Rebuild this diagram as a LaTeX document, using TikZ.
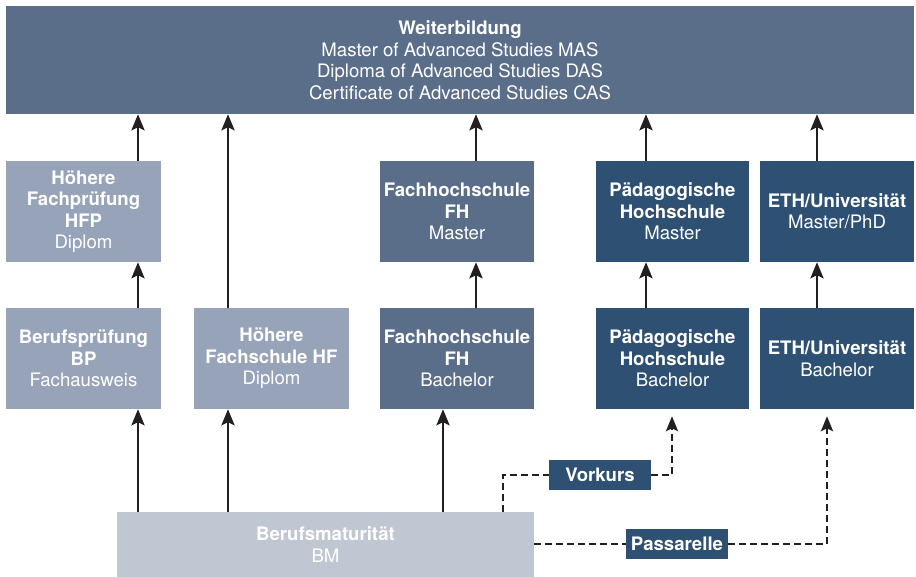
\documentclass[tikz,border=0pt]{standalone}
\usepackage{fontspec}
\setmainfont{TeX Gyre Heros}
\usetikzlibrary{arrows.meta}
\definecolor{midblue}{HTML}{5A6E8A}
\definecolor{lightblue}{HTML}{96A3B8}
\definecolor{darkblue}{HTML}{2E5073}
\definecolor{paleblue}{HTML}{C0C6D2}
\definecolor{linecol}{HTML}{231F20}
\begin{document}
\begin{tikzpicture}[x=1pt,y=-1pt,
  box/.style={rectangle, inner sep=0pt, text=white, align=center,
    font=\fontsize{18.6}{21.5}\selectfont},
  midbox/.style={box, fill=midblue},
  lightbox/.style={box, fill=lightblue},
  darkbox/.style={box, fill=darkblue},
  palebox/.style={box, fill=paleblue},
  tagbox/.style={box, fill=darkblue, minimum width=102pt, minimum height=30pt, font=\fontsize{18.6}{21.5}\selectfont\bfseries},
  colbox/.style={minimum width=155pt, minimum height=101pt},
  arr/.style={draw=linecol, line width=2.7pt, -{Stealth[length=16pt,width=13pt,inset=3pt]}},
  dline/.style={draw=linecol, line width=2.7pt, dash pattern=on 7pt off 4pt},
  darr/.style={dline, shorten >=7pt, -{Stealth[length=15pt,width=12pt,inset=3pt]}}
]
\useasboundingbox (0,0) rectangle (916,577);

% top box
\node[midbox, minimum width=908pt, minimum height=108pt] (top) at (460,60)
  {\textbf{Weiterbildung}\\Master of Advanced Studies MAS\\Diploma of Advanced Studies DAS\\Certificate of Advanced Studies CAS};

% row 2
\node[lightbox, colbox] (hfp) at (83.5,211.5)
  {\textbf{Höhere}\\\textbf{Fachprüfung}\\\textbf{HFP}\\Diplom};
\node[midbox, colbox, minimum width=154pt] (fhm) at (457,211.5)
  {\textbf{Fachhochschule}\\\textbf{FH}\\Master};
\node[darkbox, colbox, minimum width=153pt] (phm) at (672.5,211.5)
  {\textbf{Pädagogische}\\\textbf{Hochschule}\\Master};
\node[darkbox, colbox, minimum width=154pt] (ethm) at (837,211.5)
  {\textbf{ETH/Universität}\\Master/PhD};

% row 3
\node[lightbox, colbox] (bp) at (83.5,358.5)
  {\textbf{Berufsprüfung}\\\textbf{BP}\\Fachausweis};
\node[lightbox, colbox] (hf) at (271.5,358.5)
  {\textbf{Höhere}\\\textbf{Fachschule HF}\\Diplom};
\node[midbox, colbox, minimum width=154pt] (fhb) at (457,358.5)
  {\textbf{Fachhochschule}\\\textbf{FH}\\Bachelor};
\node[darkbox, colbox, minimum width=153pt] (phb) at (672.5,358.5)
  {\textbf{Pädagogische}\\\textbf{Hochschule}\\Bachelor};
\node[darkbox, colbox, minimum width=154pt] (ethb) at (837,358.5)
  {\textbf{ETH/Universität}\\Bachelor};

% bottom
\node[palebox, minimum width=417pt, minimum height=65pt] (bm) at (325.5,544.5)
  {\textbf{Berufsmaturität}\\BM};

\node[tagbox] (vork) at (600,475) {Vorkurs};
\node[tagbox] (pass) at (677,544) {Passarelle};

% arrow columns
\coordinate (c1) at (138,0);
\coordinate (c2) at (228,0);
\coordinate (c3) at (476,0);
\coordinate (c3b) at (443,0);
\coordinate (c4) at (646,0);
\coordinate (c5) at (817,0);

\draw[arr] (c1 |- hfp.north) -- (c1 |- top.south);
\draw[arr] (c2 |- hf.north) -- (c2 |- top.south);
\draw[arr] (c3 |- fhm.north) -- (c3 |- top.south);
\draw[arr] (c4 |- phm.north) -- (c4 |- top.south);
\draw[arr] (c5 |- ethm.north) -- (c5 |- top.south);

\draw[arr] (c1 |- bp.north) -- (c1 |- hfp.south);
\draw[arr] (c3 |- fhb.north) -- (c3 |- fhm.south);
\draw[arr] (c4 |- phb.north) -- (c4 |- phm.south);
\draw[arr] (c5 |- ethb.north) -- (c5 |- ethm.south);

\draw[arr] (c1 |- bm.north) -- (c1 |- bp.south);
\draw[arr] (c2 |- bm.north) -- (c2 |- hf.south);
\draw[arr] (c3b |- bm.north) -- (c3b |- fhb.south);

% dashed routes
\coordinate (v1) at (503,475);
\coordinate (v2) at (672,475);
\coordinate (p2) at (827,544);
\draw[dline] (bm.north -| v1) -- (v1) -- (vork.west);
\draw[darr] (vork.east) -- (v2) -- (v2 |- phb.south);
\draw[dline] (bm.east |- pass.west) -- (pass.west);
\draw[darr] (pass.east) -- (p2) -- (p2 |- ethb.south);
\end{tikzpicture}
\end{document}
